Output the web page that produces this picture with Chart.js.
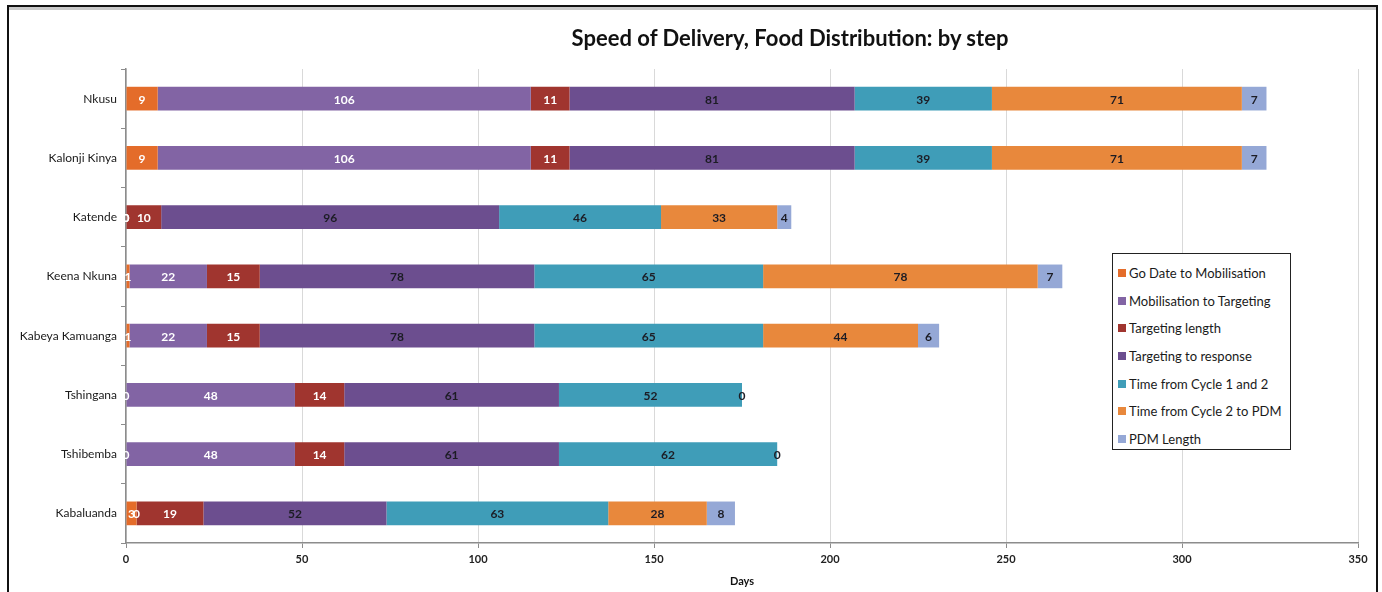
<!DOCTYPE html>
<html>
<head>
<meta charset="utf-8">
<script src="https://cdn.jsdelivr.net/npm/chart.js@4.4.1/dist/chart.umd.min.js"></script>
<style>
  html, body { margin: 0; padding: 0; background: #fff; overflow: hidden; }
  body { width: 1382px; height: 592px; position: relative; font-family: Lato, "Open Sans", sans-serif; }
  #frame {
    position: absolute; left: 7px; top: 5px; width: 1367px; height: 600px;
    border: 2px solid #111; border-bottom: none;
    box-shadow: inset 0 3px 0 #c9c9c9;
  }
  #wrap { position: absolute; left: 0; top: 0; width: 1382px; height: 592px; }
  #titre {
    position: absolute; left: 540px; top: 24px; width: 500px;
    text-align: center; font-size: 22px; font-weight: bold; color: #111; line-height: 28px;
  }
  #legende {
    position: absolute; left: 1112px; top: 253px; width: 179px; height: 197px;
    border: 1.5px solid #222; background: #fff; padding-top: 5px; box-sizing: border-box;
  }
  #legende .item { height: 27.7px; display: flex; align-items: center; font-size: 13px; color: #1a1a1a; padding-left: 5px; white-space: nowrap; }
  #legende .sw { width: 8px; height: 8px; margin-right: 3px; flex: none; }
</style>
</head>
<body>
<div id="frame"></div>
<div id="wrap"><canvas id="g-etapes" width="1382" height="592"></canvas></div>
<div id="titre">Speed of Delivery, Food Distribution: by step</div>
<div id="legende"></div>
<script>
// Sites, du haut vers le bas
const sites = ["Nkusu", "Kalonji Kinya", "Katende", "Keena Nkuna", "Kabeya Kamuanga", "Tshingana", "Tshibemba", "Kabaluanda"];

// Jours par étape
const goDateMobilisation  = [9, 9, 0, 1, 1, 0, 0, 3];
const mobilisationCiblage = [106, 106, 0, 22, 22, 48, 48, 0];
const dureeCiblage        = [11, 11, 10, 15, 15, 14, 14, 19];
const ciblageReponse      = [81, 81, 96, 78, 78, 61, 61, 52];
const cycle1et2           = [39, 39, 46, 65, 65, 52, 62, 63];
const cycle2PDM           = [71, 71, 33, 78, 44, 0, 0, 28];
const dureePDM            = [7, 7, 4, 7, 6, null, null, 8];

const ticksJours = [0, 50, 100, 150, 200, 250, 300, 350];

const series = [
  { label: "Go Date to Mobilisation",    data: goDateMobilisation,  couleur: "#E46C2A", texte: "#ffffff" },
  { label: "Mobilisation to Targeting",  data: mobilisationCiblage, couleur: "#8264A4", texte: "#ffffff" },
  { label: "Targeting length",           data: dureeCiblage,        couleur: "#A0352F", texte: "#ffffff" },
  { label: "Targeting to response",      data: ciblageReponse,      couleur: "#6C4E8F", texte: "#1c1c24" },
  { label: "Time from Cycle 1 and 2",    data: cycle1et2,           couleur: "#3F9DB8", texte: "#1c1c24" },
  { label: "Time from Cycle 2 to PDM",   data: cycle2PDM,           couleur: "#E8883C", texte: "#1c1c24" },
  { label: "PDM Length",                 data: dureePDM,            couleur: "#95A8D6", texte: "#1c1c24" }
];

// valeurs écrites au milieu de chaque segment
const etiquettes = {
  id: "etiquettes",
  afterDatasetsDraw(chart) {
    const ctx = chart.ctx;
    ctx.save();
    ctx.font = "bold 12px Lato, sans-serif";
    ctx.textAlign = "center";
    ctx.textBaseline = "middle";
    chart.data.datasets.forEach((ds, i) => {
      const meta = chart.getDatasetMeta(i);
      meta.data.forEach((el, j) => {
        const v = ds.data[j];
        if (v === null || v === undefined) return;
        ctx.fillStyle = ds.texte;
        ctx.fillText(String(v), (el.x + el.base) / 2, el.y + 1);
      });
    });
    ctx.restore();
  }
};

const gris = "#8c8c8c";

const graf = new Chart(document.getElementById("g-etapes"), {
  type: "bar",
  data: {
    labels: sites,
    datasets: series.map(s => ({
      label: s.label,
      data: s.data,
      texte: s.texte,
      backgroundColor: s.couleur,
      borderWidth: 0,
      barPercentage: 0.4,
      categoryPercentage: 1
    }))
  },
  options: {
    indexAxis: "y",
    responsive: false,
    animation: false,
    layout: { padding: { top: 69, right: 24, left: 10, bottom: 0 } },
    plugins: { legend: { display: false }, title: { display: false }, tooltip: { enabled: false } },
    scales: {
      x: {
        stacked: true,
        min: 0, max: 350,
        afterBuildTicks: s => { s.ticks = ticksJours.map(v => ({ value: v })); },
        afterFit: s => { s.height = 49; },
        grid: { color: "#d9d9d9", tickColor: gris, tickLength: 5 },
        border: { color: gris, width: 1.5 },
        ticks: { color: "#222", font: { family: "Lato", size: 11, weight: "bold" }, padding: 5 },
        title: { display: true, text: "Days", color: "#111", font: { family: "Lato", size: 11, weight: "bold" }, padding: { top: 2, bottom: 4 } }
      },
      y: {
        stacked: true,
        afterFit: s => { s.width = 116; },
        grid: { offset: true, drawOnChartArea: false, tickColor: gris, tickLength: 5 },
        border: { color: gris, width: 1.5 },
        ticks: { color: "#1a1a1a", font: { family: "Lato", size: 12 }, padding: 4 }
      }
    }
  },
  plugins: [etiquettes]
});

// légende en encadré, construite à partir des séries
const leg = document.getElementById("legende");
graf.data.datasets.forEach(ds => {
  const it = document.createElement("div");
  it.className = "item";
  const sw = document.createElement("span");
  sw.className = "sw";
  sw.style.background = ds.backgroundColor;
  it.appendChild(sw);
  it.appendChild(document.createTextNode(ds.label));
  leg.appendChild(it);
});
</script>
</body>
</html>
